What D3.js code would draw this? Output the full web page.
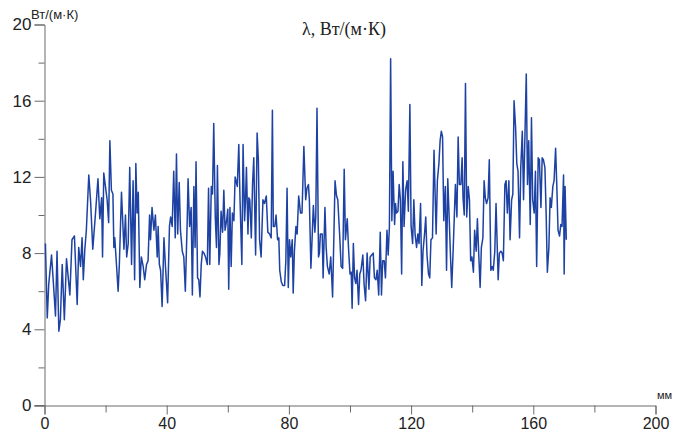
<!DOCTYPE html>
<html>
<head>
<meta charset="utf-8">
<script src="https://d3js.org/d3.v7.min.js"></script>
<style>
  body { margin: 0; background: #fff; }
  svg { display: block; }
</style>
</head>
<body>
<svg id="chart" width="673" height="435"></svg>
<script>
// thermal conductivity along the sample
var distMm = [
  0.3, 0.9, 1.4, 2.3, 2.8, 3.6, 4.1, 4.7, 5.2, 5.8, 6.5, 7.2, 8.3, 9.0, 9.8, 10.7, 11.2, 11.8, 12.3, 12.7,
  13.2, 13.7, 14.5, 15.1, 15.8, 16.7, 17.5, 18.1, 18.7, 19.0, 19.4, 20.5, 21.0, 21.4, 21.9, 22.4, 22.7, 23.0, 23.6, 24.1,
  24.5, 25.2, 26.0, 26.5, 26.9, 27.4, 27.9, 28.5, 29.0, 29.5, 29.9, 30.3, 30.7, 31.2, 31.7, 32.3, 32.8, 33.4, 33.9, 34.4,
  34.7, 35.2, 35.8, 36.3, 36.9, 37.2, 37.6, 38.0, 38.5, 39.1, 39.6, 40.3, 40.9, 41.3, 41.8, 42.3, 42.8, 43.2, 43.6, 44.1,
  44.5, 45.1, 45.6, 46.1, 46.7, 47.0, 47.5, 48.0, 48.4, 48.9, 49.3, 49.6, 50.1, 50.5, 50.9, 51.3, 51.7, 52.2, 52.7, 53.3,
  53.7, 54.1, 54.6, 55.0, 55.4, 55.9, 56.3, 56.6, 57.1, 57.4, 57.8, 58.3, 58.7, 59.1, 59.6, 60.0, 60.3, 60.7, 61.1, 61.5,
  62.0, 62.4, 63.1, 63.6, 64.0, 64.6, 65.0, 65.5, 65.8, 66.1, 66.6, 66.9, 67.2, 67.7, 68.1, 68.5, 69.1, 69.6, 70.0, 70.4,
  70.9, 71.5, 72.0, 72.6, 73.1, 73.7, 74.2, 74.6, 74.9, 75.4, 75.8, 76.3, 76.7, 77.0, 77.5, 78.0, 78.6, 79.0, 79.4, 79.8,
  80.2, 80.6, 81.1, 81.4, 81.8, 82.3, 82.7, 83.2, 83.8, 84.3, 84.9, 85.5, 85.9, 86.4, 86.7, 87.2, 87.6, 88.0, 88.5, 88.8,
  89.2, 89.7, 90.0, 90.3, 90.9, 91.2, 91.8, 92.2, 92.6, 93.2, 93.7, 94.3, 94.7, 95.1, 95.6, 96.0, 96.6, 97.1, 97.6, 98.1,
  98.5, 99.1, 99.5, 100.0, 100.4, 100.7, 101.1, 101.5, 101.9, 102.3, 102.8, 103.2, 103.6, 104.2, 104.6, 105.1, 105.6, 106.2, 106.6, 107.1,
  107.6, 108.0, 108.5, 108.9, 109.4, 109.9, 110.3, 110.7, 111.2, 111.6, 112.1, 112.5, 112.9, 113.3, 113.7, 114.1, 114.6, 114.9, 115.2, 115.7,
  116.1, 116.5, 116.9, 117.3, 117.7, 118.2, 118.7, 119.1, 119.6, 120.0, 120.5, 120.9, 121.3, 121.8, 122.2, 122.6, 123.1, 123.5, 123.9, 124.4,
  124.8, 125.2, 125.7, 126.1, 126.5, 127.0, 127.5, 128.2, 128.6, 129.1, 129.5, 129.9, 130.3, 130.7, 131.2, 131.6, 132.0, 132.5, 132.9, 133.3,
  133.8, 134.2, 134.5, 135.0, 135.4, 135.8, 136.3, 136.7, 137.0, 137.4, 137.8, 138.2, 138.7, 139.1, 139.5, 139.9, 140.4, 140.8, 141.3, 141.7,
  142.1, 142.6, 143.0, 143.5, 143.9, 144.3, 144.7, 145.2, 145.6, 146.1, 146.5, 146.9, 147.4, 147.8, 148.2, 148.5, 148.9, 149.4, 149.8, 150.2,
  150.7, 151.1, 151.5, 152.0, 152.4, 152.9, 153.3, 153.7, 154.2, 154.6, 155.0, 155.5, 155.9, 156.4, 156.8, 157.2, 157.7, 158.1, 158.5, 159.0,
  159.4, 159.8, 160.3, 160.7, 161.1, 161.6, 162.0, 162.5, 162.9, 163.3, 163.8, 164.2, 164.6, 165.1, 165.5, 165.9, 166.4, 166.8, 167.3, 167.7,
  168.1, 168.6, 169.0, 169.4, 169.9, 170.1, 170.4, 170.8
];
var lambda = [
  8.5, 4.6, 6.4, 7.9, 6.7, 4.7, 8.1, 3.9, 4.5, 7.4, 4.5, 7.7, 5.8, 8.7, 8.9, 5.3, 8.3, 7.3, 8.8, 6.6,
  8.2, 9.2, 12.1, 10.7, 8.2, 10.1, 11.9, 9.8, 10.9, 7.8, 12.2, 10.8, 9.6, 13.9, 11.3, 11.1, 8.3, 8.8, 7.3, 6.0,
  7.4, 11.2, 8.2, 10.0, 7.8, 8.5, 12.5, 7.4, 11.8, 6.6, 12.7, 10.1, 11.2, 6.2, 7.8, 7.3, 6.6, 7.4, 7.6, 10.0,
  8.7, 10.4, 9.2, 10.0, 7.8, 9.4, 7.4, 7.1, 5.2, 8.8, 7.3, 5.4, 9.4, 9.9, 9.4, 12.3, 8.8, 13.2, 9.0, 11.7,
  9.2, 8.1, 7.8, 6.0, 9.6, 11.9, 9.4, 10.4, 5.8, 11.5, 8.3, 12.8, 6.7, 6.6, 5.7, 7.4, 8.1, 8.0, 7.8, 7.4,
  11.4, 7.4, 11.5, 11.1, 14.8, 9.9, 8.3, 12.6, 7.4, 8.0, 10.2, 9.1, 11.3, 9.2, 9.7, 10.3, 6.1, 10.4, 7.3, 10.1,
  9.7, 12.0, 11.5, 13.7, 10.8, 7.4, 13.7, 9.7, 10.8, 12.5, 9.0, 10.9, 10.8, 8.8, 11.6, 13.0, 7.9, 14.3, 12.9, 8.7,
  7.8, 10.8, 10.6, 11.0, 9.1, 9.0, 8.8, 15.5, 9.4, 9.4, 10.0, 8.7, 8.8, 7.1, 6.5, 6.3, 6.3, 7.6, 11.4, 6.2,
  8.7, 7.8, 8.7, 5.9, 8.1, 9.4, 9.0, 11.0, 10.1, 10.1, 13.6, 10.8, 11.4, 11.6, 10.8, 7.2, 8.8, 10.5, 9.1, 9.9,
  15.6, 7.8, 8.0, 9.0, 9.0, 6.7, 10.4, 8.3, 7.3, 6.9, 7.8, 5.7, 8.7, 11.8, 11.0, 10.8, 9.0, 7.3, 7.2, 12.4,
  8.7, 9.8, 8.3, 6.9, 7.0, 5.1, 8.5, 6.7, 6.4, 7.1, 5.3, 6.9, 7.1, 7.9, 6.4, 5.5, 8.0, 6.1, 7.8, 7.9,
  8.0, 6.7, 6.6, 7.1, 5.8, 9.1, 5.8, 7.6, 7.6, 6.7, 9.2, 7.9, 9.4, 18.2, 9.7, 12.3, 9.5, 10.6, 10.1, 10.2,
  11.6, 10.8, 6.9, 12.8, 9.4, 11.3, 11.8, 10.2, 15.8, 9.4, 8.5, 10.8, 9.0, 8.3, 9.0, 8.5, 10.6, 6.3, 8.1, 9.0,
  9.9, 7.9, 6.9, 6.7, 8.7, 8.8, 13.4, 9.0, 11.8, 12.7, 13.9, 14.4, 14.1, 9.7, 11.5, 7.1, 11.9, 9.7, 7.8, 6.2,
  8.3, 10.2, 11.6, 9.9, 14.1, 11.6, 11.6, 13.0, 10.9, 10.0, 16.9, 9.9, 11.5, 10.8, 7.6, 7.8, 7.0, 9.2, 8.1, 9.8,
  8.1, 6.2, 8.3, 8.8, 11.8, 10.9, 10.6, 10.9, 12.9, 7.1, 7.3, 7.1, 8.1, 10.6, 8.3, 6.6, 8.0, 8.1, 8.0, 7.6,
  11.6, 11.8, 10.1, 11.8, 8.7, 10.8, 11.1, 16.0, 14.6, 12.7, 12.3, 8.8, 12.5, 14.4, 10.8, 13.7, 17.4, 11.6, 13.9, 9.5,
  15.1, 10.8, 10.1, 12.3, 7.3, 13.0, 12.9, 10.4, 13.0, 12.9, 12.5, 10.1, 7.0, 8.3, 10.9, 10.4, 11.5, 11.8, 13.5, 11.5,
  9.2, 8.9, 9.5, 9.4, 12.1, 6.9, 11.5, 8.7
];
var xTicks = [0, 20, 40, 60, 80, 100, 120, 140, 160, 180, 200];
var yTicks = [0, 2, 4, 6, 8, 10, 12, 14, 16, 18, 20];
var title = "λ, Вт/(м·К)";
var yUnit = "Вт/(м·К)";
var xUnit = "мм";

var svg = d3.select("#chart");

var x = d3.scaleLinear().domain([0, 200]).range([44.5, 655.5]);
var y = d3.scaleLinear().domain([0, 20]).range([405.5, 24.5]);

var axisColor = "#6b6b6b";
var labelFont = "'Liberation Sans', Arial, sans-serif";

// y axis: minor ticks every 2, labels every 4
var yAxis = svg.append("g")
  .attr("transform", "translate(" + x(0) + ",0)")
  .call(d3.axisLeft(y)
    .tickValues(yTicks)
    .tickSizeOuter(0)
    .tickSize(10)
    .tickPadding(3)
    .tickFormat(function(d) { return d % 4 === 0 ? d : ""; }));

yAxis.selectAll(".tick line")
  .attr("x2", function(d) { return d % 4 === 0 ? -10 : -6; });

// x axis: minor ticks every 20, labels every 40
var xAxis = svg.append("g")
  .attr("transform", "translate(0," + y(0) + ")")
  .call(d3.axisBottom(x)
    .tickValues(xTicks)
    .tickSizeOuter(0)
    .tickSize(9)
    .tickPadding(3)
    .tickFormat(function(d) { return d % 40 === 0 ? d : ""; }));

xAxis.selectAll(".tick line")
  .attr("y2", function(d) { return d % 40 === 0 ? 9 : 7; });

// x axis line also runs under the 0 tick of y
svg.append("line")
  .attr("x1", x(0) - 10).attr("x2", x(0))
  .attr("y1", y(0)).attr("y2", y(0))
  .attr("stroke", axisColor);

svg.selectAll(".domain, .tick line").attr("stroke", axisColor);
svg.selectAll(".tick text")
  .attr("fill", "#222")
  .style("font-family", labelFont)
  .style("font-size", "17px");
xAxis.selectAll(".tick text").style("font-size", "16px");

// line
var line = d3.line()
  .x(function(d, i) { return x(distMm[i]); })
  .y(function(d) { return y(d); });

svg.append("path")
  .datum(lambda)
  .attr("fill", "none")
  .attr("stroke", "#1d42a3")
  .attr("stroke-width", 1.5)
  .attr("stroke-linejoin", "round")
  .attr("d", line);

// texts
svg.append("text")
  .attr("x", 344).attr("y", 35)
  .attr("text-anchor", "middle")
  .attr("fill", "#222")
  .style("font-family", "'Liberation Serif', 'Times New Roman', serif")
  .style("font-size", "18px")
  .text(title);

svg.append("text")
  .attr("x", 31).attr("y", 19)
  .attr("fill", "#222")
  .style("font-family", labelFont)
  .style("font-size", "13px")
  .text(yUnit);

svg.append("text")
  .attr("x", 657).attr("y", 399)
  .attr("fill", "#222")
  .style("font-family", labelFont)
  .style("font-size", "11px")
  .text(xUnit);
</script>
</body>
</html>
